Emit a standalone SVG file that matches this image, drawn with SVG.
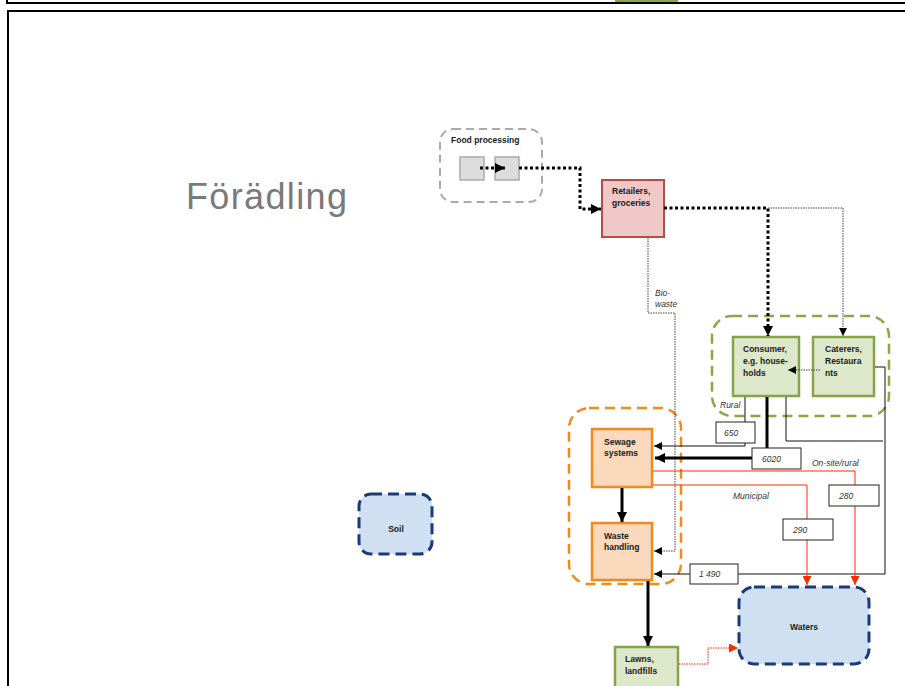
<svg xmlns="http://www.w3.org/2000/svg" width="905" height="686" viewBox="0 0 905 686">
<style>
.lbl{font-family:"Liberation Sans",Arial,sans-serif;font-size:8.5px;font-weight:bold;fill:#1a1a1a}
.it{font-family:"Liberation Sans",Arial,sans-serif;font-size:8.5px;font-style:italic;fill:#333}
.box{fill:#fff;stroke:#222;stroke-width:1}
.thin{fill:none;stroke:#111;stroke-width:1}
.thick{fill:none;stroke:#000;stroke-width:3}
.dotbig{fill:none;stroke:#000;stroke-width:3;stroke-dasharray:3 2.5}
.dotsm{fill:none;stroke:#444;stroke-width:1;stroke-dasharray:1.5 1}
.red{fill:none;stroke:#ff2a00;stroke-width:1}
.reddot{fill:none;stroke:#ff2a00;stroke-width:1;stroke-dasharray:1.5 1}
.green{fill:#dde8cb;stroke:#86a34a;stroke-width:2.5}
.orange{fill:#fbd9bd;stroke:#f08a1c;stroke-width:2.5}
.blue{fill:#cfe0f2;stroke:#1b3a78;stroke-width:3;stroke-dasharray:11 6}
</style>
<defs>
<marker id="ab" viewBox="0 0 10 10" refX="10" refY="5" markerWidth="10" markerHeight="10" markerUnits="userSpaceOnUse" orient="auto"><path d="M0,0 L10,5 L0,10 z" fill="#000"/></marker>
<marker id="abs" viewBox="0 0 10 10" refX="10" refY="5" markerWidth="8" markerHeight="8" markerUnits="userSpaceOnUse" orient="auto"><path d="M0,0 L10,5 L0,10 z" fill="#000"/></marker>
<marker id="ar" viewBox="0 0 10 10" refX="10" refY="5" markerWidth="9" markerHeight="9" markerUnits="userSpaceOnUse" orient="auto"><path d="M0,0 L10,5 L0,10 z" fill="#ff2a00"/></marker>
</defs>
<rect width="905" height="686" fill="#fff"/>
<!-- frames -->
<rect x="7" y="-20" width="910" height="23" fill="none" stroke="#000" stroke-width="2"/>
<rect x="615" y="0" width="63" height="2" fill="#8aa84a"/>
<rect x="8" y="11" width="910" height="700" fill="none" stroke="#000" stroke-width="2"/>
<text x="186" y="209" font-family="'Liberation Sans',Arial,sans-serif" font-size="36" fill="#7a7a7a" textLength="161">Förädling</text>

<!-- groups -->
<rect id="food-processing-group" x="440" y="129" width="102" height="73" rx="13" fill="none" stroke="#aaa" stroke-width="2" stroke-dasharray="8 5"/>
<rect id="consumer-group" x="712" y="316" width="177" height="100" rx="20" fill="none" stroke="#8aa84a" stroke-width="2.5" stroke-dasharray="10 6"/>
<rect id="sewage-group" x="569" y="408" width="112" height="176" rx="20" fill="none" stroke="#f0891e" stroke-width="2.5" stroke-dasharray="10 6"/>

<g id="food-processing">
<text class="lbl" x="451" y="143">Food processing</text>
<rect x="460" y="157" width="24" height="23" fill="#ddd" stroke="#aaa" stroke-width="1.5"/>
<rect x="495" y="157" width="24" height="23" fill="#ddd" stroke="#aaa" stroke-width="1.5"/>
</g>
<g id="retailers">
<rect x="602" y="180" width="62" height="57" fill="#f0c8c8" stroke="#b84c4c" stroke-width="2"/>
<text class="lbl" x="612" y="194">Retailers,</text>
<text class="lbl" x="612" y="206">groceries</text>
</g>
<g id="consumer">
<rect class="green" x="733" y="337" width="66" height="59"/>
<text class="lbl" x="743" y="352">Consumer,</text>
<text class="lbl" x="743" y="364">e.g. house-</text>
<text class="lbl" x="743" y="376">holds</text>
</g>
<g id="caterers">
<rect class="green" x="813" y="337" width="61" height="59"/>
<text class="lbl" x="825" y="352">Caterers,</text>
<text class="lbl" x="825" y="364">Restaura</text>
<text class="lbl" x="825" y="376">nts</text>
</g>
<g id="sewage">
<rect class="orange" x="592" y="429" width="60" height="58"/>
<text class="lbl" x="604" y="445">Sewage</text>
<text class="lbl" x="604" y="456">systems</text>
</g>
<g id="waste-handling">
<rect class="orange" x="592" y="523" width="60" height="57"/>
<text class="lbl" x="604" y="539">Waste</text>
<text class="lbl" x="604" y="550">handling</text>
</g>
<g id="lawns">
<rect class="green" x="615" y="647" width="63" height="50"/>
<text class="lbl" x="625" y="662">Lawns,</text>
<text class="lbl" x="625" y="674">landfills</text>
</g>
<g id="waters">
<rect class="blue" x="739" y="587" width="130" height="77" rx="15"/>
<text class="lbl" x="804" y="630" text-anchor="middle">Waters</text>
</g>
<g id="soil">
<rect class="blue" x="359" y="494" width="73" height="60" rx="12"/>
<text class="lbl" x="396" y="532" text-anchor="middle">Soil</text>
</g>

<g id="connectors">
<path class="dotbig" d="M480,168 H505" marker-end="url(#ab)"/>
<path class="dotbig" d="M519,168 H580 V209 H601" marker-end="url(#ab)"/>
<path class="dotbig" d="M664,208 H768 V336" marker-end="url(#ab)"/>
<path class="dotsm" d="M768,208 H843 V336" marker-end="url(#abs)"/>
<path class="dotsm" d="M820,370 H788" marker-end="url(#abs)"/>
<path class="dotsm" d="M648,238 V313 H675 V551 H654" marker-end="url(#abs)"/>
<path class="thin" d="M745,397 V446 H654" marker-end="url(#abs)"/>
<path class="thick" d="M767,397 V450"/>
<path class="thick" d="M755,458 H655" marker-end="url(#ab)"/>
<path class="thin" d="M786,397 V441 H883"/>
<path class="thin" d="M875,367 H885 V574 H654" marker-end="url(#abs)"/>
<path class="red" d="M653,471 H855 V585" marker-end="url(#ar)"/>
<path class="red" d="M653,485 H807 V585" marker-end="url(#ar)"/>
<path class="reddot" d="M679,664 H708 V648 H738" marker-end="url(#ar)"/>
<path class="thick" d="M622,488 V522" marker-end="url(#ab)"/>
<path class="thick" d="M648,581 V646" marker-end="url(#ab)"/>
<rect class="box" x="716" y="422" width="39" height="21"/>
<text class="it" x="724" y="436">650</text>
<rect class="box" x="752" y="448" width="49" height="21"/>
<text class="it" x="762" y="462">6020</text>
<rect class="box" x="829" y="485" width="50" height="21"/>
<text class="it" x="839" y="499">280</text>
<rect class="box" x="783" y="519" width="50" height="21"/>
<text class="it" x="793" y="533">290</text>
<rect class="box" x="690" y="564" width="48" height="20"/>
<text class="it" x="699" y="577">1 490</text>
<text class="it" x="655" y="296">Bio-</text>
<text class="it" x="655" y="307">waste</text>
<text class="it" x="720" y="408">Rural</text>
<text class="it" x="812" y="466">On-site/rural</text>
<text class="it" x="733" y="499">Municipal</text>
</g>
</svg>
